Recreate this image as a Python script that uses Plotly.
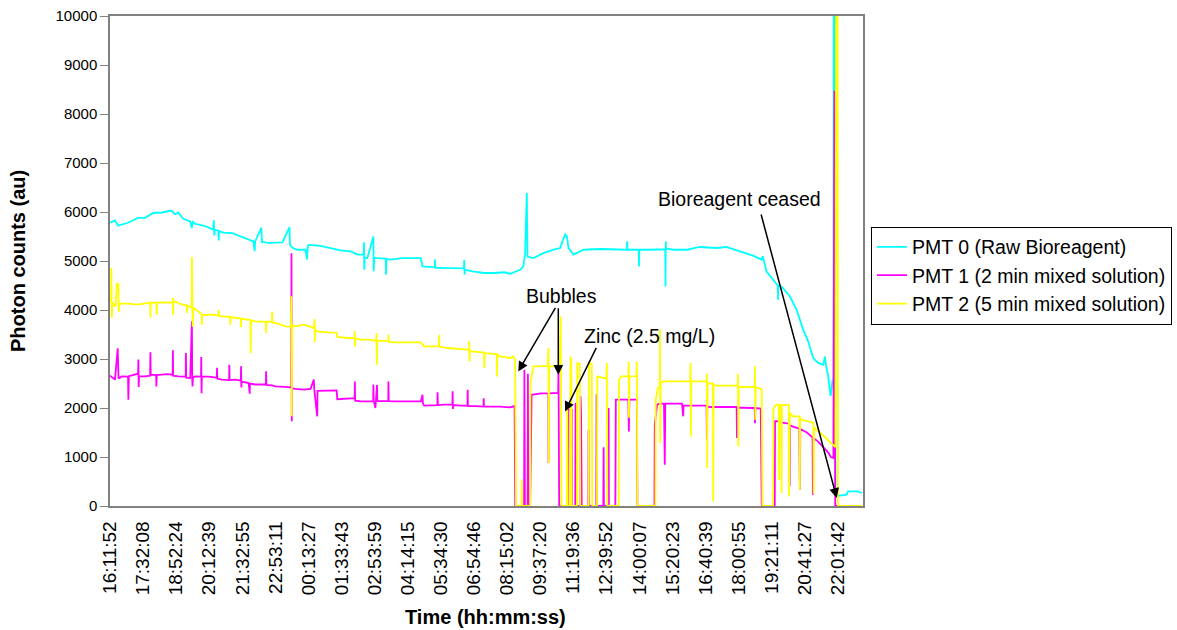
import plotly.graph_objects as go

# ---------------- data ----------------
time_labels = ["16:11:52", "17:32:08", "18:52:24", "20:12:39", "21:32:55", "22:53:11",
               "00:13:27", "01:33:43", "02:53:59", "04:14:15", "05:34:30", "06:54:46",
               "08:15:02", "09:37:20", "11:19:36", "12:39:52", "14:00:07", "15:20:23",
               "16:40:39", "18:00:55", "19:21:11", "20:41:27", "22:01:42"]
samples_per_label = 33
n_samples = 751

pmt0_idx = [0, 5, 8, 18, 28, 35, 43, 52, 61, 65, 68, 73, 80, 81.5, 82.5, 85, 95, 103, 103.5, 104, 104.5,
            108, 108.4, 108.8, 113, 122, 131.7, 143, 144.3, 144.8, 151, 151.5, 158, 172, 179, 179.5, 182,
            186.7, 195, 196.5, 197.3, 198.3, 210, 220, 230, 240, 247, 253, 253.3, 253.6, 254, 256.7, 262.7,
            263, 263.5, 266.7, 275, 275.3, 275.7, 280, 291.7, 310, 311.7, 324, 324.2, 324.5, 328, 336.7,
            353, 353.3, 353.6, 354, 361.7, 373.3, 383.3, 393.3, 399, 409, 412.3, 414, 415.7, 416.4, 422.3,
            432.3, 442.3, 449, 450.7, 454, 455.7, 457.3, 462.3, 472.3, 489, 502.3, 515.5, 515.8, 516.1,
            527.3, 527.6, 527.9, 539, 553.8, 554, 554.3, 554.6, 562.3, 575.7, 588, 604.7, 614.7, 628,
            641.3, 649.7, 651, 654.7, 661.3, 666, 666.3, 666.6, 669.7, 674.7, 678, 684.7, 691.3, 696.3,
            701.3, 706.3, 711.3, 713, 714, 716.3, 718.7, 720.7, 721.5, 722, 723, 723.5, 734.7, 736, 745, 750]
pmt0_val = [5780, 5830, 5720, 5780, 5880, 5880, 5980, 5990, 6030, 5950, 5990, 5860, 5810, 5670, 5800, 5760,
            5710, 5640, 5830, 5520, 5640, 5620, 5420, 5610, 5580, 5570, 5490, 5400, 5200, 5400, 5680, 5390,
            5370, 5380, 5690, 5330, 5270, 5230, 5230, 5030, 5300, 5330, 5310, 5265, 5215, 5195, 5130, 5130,
            5380, 4820, 5080, 5060, 5500, 4790, 5060, 5060, 5050, 4720, 5040, 5030, 5060, 5060, 4890, 4870,
            5030, 4860, 4860, 4860, 4850, 5020, 4720, 4820, 4790, 4755, 4755, 4770, 4740, 4820, 4890, 5160,
            6390, 5090, 5060, 5160, 5230, 5265, 5370, 5540, 5500, 5265, 5130, 5230, 5245, 5230, 5230, 5400,
            5230, 5230, 4890, 5230, 5230, 5240, 4480, 5400, 5250, 5230, 5230, 5286, 5265, 5286, 5196, 5108,
            5027, 5100, 4790, 4620, 4500, 4210, 4500, 4480, 4350, 4280, 4010, 3600, 3360, 3020, 2920, 2880,
            3050, 2880, 2645, 2240, 2580, 2500, 15000, 15000, 200, 230, 300, 300, 265]

pmt1_idx = [0, 5, 7.7, 8.5, 11.7, 18, 18.3, 18.8, 28, 28.3, 28.6, 29, 35, 40, 40.3, 40.6, 46, 46.3, 46.6,
            51.7, 56.7, 62.5, 62.7, 63, 68.3, 75.5, 75.7, 76, 80, 81.7, 82, 82.3, 82.7, 85, 90.8, 91, 91.3,
            91.6, 98.3, 106.5, 106.7, 107, 111.7, 118.8, 119, 119.3, 125, 130.5, 130.7, 131, 131.3, 138.3,
            139.3, 139.6, 145, 155.5, 155.7, 156, 161.7, 165, 175, 180.8, 181, 181.3, 181.6, 185, 193.3,
            200, 203.3, 203.7, 206.7, 207, 216.7, 226, 226.7, 236.7, 244, 244.2, 244.5, 250, 262.5, 262.7,
            263, 264.7, 265, 266.3, 266.6, 271.7, 277.5, 277.7, 278, 283.3, 310, 311.7, 312, 313.3, 326.5,
            326.7, 327, 333.3, 341.5, 341.7, 342, 342.3, 350, 356.5, 356.7, 357, 365, 372.5, 372.7, 373,
            380, 389, 399, 403, 403.5, 404.2, 413, 413.3, 413.8, 416.5, 416.8, 417.2, 419, 420.5, 430,
            437.2, 437.4, 437.7, 447, 447.3, 448, 457, 457.3, 460.5, 460.8, 464, 464.3, 464.6, 469, 469.3,
            469.8, 470.5, 477, 477.3, 477.6, 485, 485.3, 485.8, 492, 492.3, 492.6, 497, 497.3, 497.6, 504,
            504.5, 517, 517.5, 518, 525.5, 526, 543, 543.3, 545.7, 548, 552.5, 553.3, 553.8, 555.7, 570.5,
            571.7, 572, 585, 595, 595.3, 595.7, 597, 625, 625.3, 625.7, 640, 643, 643.3, 643.7, 649, 650,
            663, 663.3, 665, 670, 677.5, 677.8, 678.2, 681, 687.5, 688, 688.5, 695, 700.7, 701, 701.4, 706,
            712, 716, 719, 721.5, 722.5, 723.3, 750]
pmt1_val = [2660, 2580, 3220, 2600, 2645, 2640, 2170, 2650, 2700, 2990, 2430, 2650, 2645, 2660, 3140, 2680,
            2670, 2440, 2670, 2680, 2690, 2680, 3180, 2660, 2645, 2640, 3120, 2620, 2610, 3770, 2590, 2440,
            2620, 2645, 2640, 3040, 2300, 2640, 2640, 2620, 2820, 2600, 2580, 2570, 2880, 2570, 2580, 2560,
            2850, 2420, 2540, 2510, 2290, 2500, 2480, 2480, 2750, 2470, 2460, 2440, 2430, 2420, 5160, 1730,
            2400, 2390, 2375, 2390, 2580, 2390, 1830, 2350, 2360, 2360, 2180, 2200, 2200, 2540, 2150, 2135,
            2140, 2480, 2150, 2000, 2140, 2470, 2140, 2135, 2140, 2540, 2140, 2135, 2135, 2270, 2100, 2050,
            2060, 2320, 2060, 2067, 2070, 2340, 1980, 2060, 2050, 2050, 2370, 2040, 2040, 2030, 2200, 2030,
            2030, 2030, 2012, 2047, 2040, 0, 0, 2780, 0, 0, 2700, 0, 0, 2270, 2300, 2300, 880, 2300, 2310,
            2780, 0, 0, 1960, 1960, 0, 0, 2100, 0, 0, 2240, 1900, 0, 0, 1560, 0, 0, 2280, 0, 0, 1200, 0, 0,
            2000, 0, 0, 2170, 2170, 1520, 2170, 2170, 0, 0, 1660, 2067, 2088, 2088, 840, 2088, 2090, 2090,
            1830, 2050, 2047, 2047, 1350, 2040, 2020, 2020, 1390, 2010, 2000, 2000, 1690, 2000, 1990, 0, 0,
            1730, 1730, 1700, 1680, 400, 1650, 1620, 1580, 330, 1570, 1500, 1400, 230, 1390, 1320, 1200,
            1100, 1000, 980, 8480, 0, 0]

pmt2_idx = [0, 1, 1.3, 1.8, 2.3, 5.7, 6.7, 8.3, 8.8, 9.5, 11.7, 18.3, 28, 35, 40, 40.3, 40.6, 46.3, 46.6, 47,
            51.7, 62.5, 62.7, 63, 63.3, 65, 71.7, 76.5, 76.7, 77, 81.5, 81.7, 82.5, 83, 85, 91.5, 91.7, 92,
            101.7, 108, 108.3, 108.6, 111.7, 119.8, 120, 120.3, 125, 130.5, 130.7, 131, 140, 140.3, 140.6,
            145, 155.5, 155.7, 156, 161.5, 161.7, 162, 165, 175, 180.5, 181, 181.3, 181.7, 185, 193.3, 203.3,
            204, 204.3, 204.6, 206.7, 216.7, 226, 226.7, 236.7, 243.8, 244, 244.3, 244.6, 250, 258.3, 265.5,
            265.8, 266.1, 266.5, 277.5, 277.7, 278, 283.3, 310, 313.3, 328, 328.3, 328.6, 336.7, 346.7,
            353.3, 358.2, 358.3, 358.6, 359, 361.7, 373, 373.3, 373.6, 380, 385.8, 386, 386.3, 389, 399,
            402.3, 404, 405, 410.5, 410.7, 411, 419, 419.3, 422.3, 425.5, 436.5, 437.3, 437.6, 438, 447.3,
            448.5, 449.5, 450.3, 455.7, 456, 456.5, 459, 459.3, 460, 460.5, 465.7, 466, 468.5, 469, 477.3,
            477.6, 480.5, 481, 485.7, 486, 490, 495, 495.6, 496, 507.3, 507.6, 510, 517, 517.3, 517.6, 518,
            525, 525.5, 526, 544, 544.3, 546.5, 548.3, 548.5, 548.8, 549.3, 552, 578.5, 579, 579.3, 579.7,
            595, 595.3, 595.6, 596, 601.3, 601.6, 602, 605, 626, 626.3, 626.6, 627, 628, 643, 643.3, 643.6,
            644, 645, 650, 650.7, 661.3, 661.6, 663, 665, 667, 667.3, 667.6, 669.5, 669.8, 670.1, 677,
            677.3, 678, 681, 687.7, 688, 688.3, 690, 695, 701.5, 701.8, 702.2, 708, 713, 718, 721, 723.5,
            724.5, 725.5, 726, 750]
pmt2_val = [4180, 4170, 4860, 3840, 4150, 4070, 4550, 4520, 3960, 4130, 4130, 4130, 4110, 4140, 4150, 3840,
            4150, 4150, 3900, 4150, 4155, 4150, 4245, 3900, 4170, 4176, 4108, 4100, 3940, 4090, 4050, 5080,
            3660, 4040, 4020, 3910, 3700, 3900, 3904, 3890, 4006, 3880, 3870, 3860, 3700, 3860, 3837, 3830,
            3650, 3820, 3800, 3120, 3790, 3767, 3760, 3530, 3760, 3760, 3970, 3740, 3735, 3665, 3660, 4280,
            1830, 3690, 3665, 3700, 3633, 3816, 3340, 3600, 3563, 3543, 3540, 3449, 3429, 3430, 3570, 3250,
            3420, 3394, 3394, 3370, 3530, 2884, 3370, 3370, 3500, 3350, 3339, 3339, 3257, 3257, 3496, 3250,
            3224, 3204, 3190, 3190, 3360, 2950, 3160, 3155, 3130, 2816, 3120, 3108, 3100, 2645, 3090, 3053,
            3020, 3053, 2990, 0, 0, 540, 0, 0, 2510, 2849, 2850, 2860, 3224, 877, 2850, 2850, 2900, 3869, 0,
            0, 1965, 0, 0, 3053, 2950, 0, 0, 2918, 2900, 0, 0, 2918, 2900, 0, 0, 2645, 2620, 2600, 2918, 0,
            0, 2578, 2645, 2645, 2950, 1800, 2645, 2645, 2950, 0, 0, 2170, 2414, 2414, 3600, 1290, 2510,
            2543, 2543, 2918, 1420, 2543, 2543, 2700, 776, 2500, 2500, 94, 2480, 2455, 2455, 2700, 1216,
            2440, 2429, 2430, 2850, 1760, 2420, 2418, 2380, 0, 0, 1965, 2033, 2067, 2067, 537, 2060, 2060,
            265, 2060, 2060, 196, 1900, 1829, 1829, 333, 1800, 1760, 1730, 1700, 250, 1600, 1500, 1400,
            1300, 1250, 1200, 15000, 15000, 0, 0]

series_names = ["PMT 0 (Raw Bioreagent)", "PMT 1 (2 min mixed solution)", "PMT 2 (5 min mixed solution)"]
series_colors = ["#00FFFF", "#FF00FF", "#FFFF00"]

# ---------------- figure ----------------
FONT = "Arial, Liberation Sans, sans-serif"
fig = go.Figure()
for name, color, xs, ys in zip(series_names, series_colors,
                               [pmt0_idx, pmt1_idx, pmt2_idx],
                               [pmt0_val, pmt1_val, pmt2_val]):
    fig.add_trace(go.Scatter(x=xs, y=ys, mode="lines", name=name,
                             line=dict(color=color, width=1.8)))

tick_positions = [i * samples_per_label for i in range(len(time_labels))]

fig.update_layout(
    width=1177, height=630,
    margin=dict(l=110, r=314, t=16, b=124, autoexpand=False),
    plot_bgcolor="white", paper_bgcolor="white",
    font=dict(family=FONT, color="black", size=16),
    showlegend=True,
    legend=dict(x=1.0106, y=0.57, xanchor="left", yanchor="top",
                bordercolor="black", borderwidth=1, bgcolor="white",
                font=dict(family=FONT, size=19.5, color="black"),
                itemwidth=30, tracegroupgap=0),
    xaxis=dict(range=[0, n_samples], tickvals=tick_positions, ticktext=time_labels,
               tickangle=-90, showgrid=False, zeroline=False, showline=True,
               linecolor="#808080", linewidth=1.5, mirror=True, ticks="outside", ticklen=6,
               tickcolor="rgba(0,0,0,0)",
               tickfont=dict(family=FONT, size=19, color="black"), layer="below traces"),
    yaxis=dict(range=[0, 10000], dtick=1000, tickformat="d", showgrid=False, zeroline=False,
               showline=True, linecolor="#808080", linewidth=1.5, mirror=True, ticks="outside",
               ticklen=8, tickcolor="#808080", tickfont=dict(family=FONT, size=15, color="black"),
               layer="below traces"),
)

# axis titles
title_font = dict(family=FONT, size=20, color="black")
fig.add_annotation(text="<b>Time (hh:mm:ss)</b>", xref="paper", yref="paper", x=0.4993, y=-0.2265,
                   xanchor="center", yanchor="middle", showarrow=False, font=title_font)
fig.add_annotation(text="<b>Photon counts (au)</b>", xref="paper", yref="paper", x=-0.1222, y=0.5,
                   xanchor="center", yanchor="middle", textangle=-90, showarrow=False, font=title_font)

# text labels
ann_font = dict(family=FONT, size=19.5, color="black")
fig.add_annotation(text="Bubbles", x=449.8, y=4292, showarrow=False, font=ann_font)
fig.add_annotation(text="Zinc (2.5 mg/L)", x=538.5, y=3476, showarrow=False, font=ann_font)
fig.add_annotation(text="Bioreagent ceased", x=628.3, y=6272, showarrow=False, font=ann_font)

# arrows (head at data point, tail offset in pixels)
arrow_style = dict(text="", showarrow=True, arrowhead=2, arrowsize=1.3, arrowwidth=1.5,
                   arrowcolor="black", standoff=0, startstandoff=0)
fig.add_annotation(x=407.2, y=2747, ax=38, ay=-65, **arrow_style)
fig.add_annotation(x=447.1, y=2680, ax=0, ay=-68, **arrow_style)
fig.add_annotation(x=453.8, y=1931, ax=32, ay=-65, **arrow_style)
fig.add_annotation(x=724.8, y=163, ax=-76, ay=-285, **arrow_style)

fig.write_html("out.html")
